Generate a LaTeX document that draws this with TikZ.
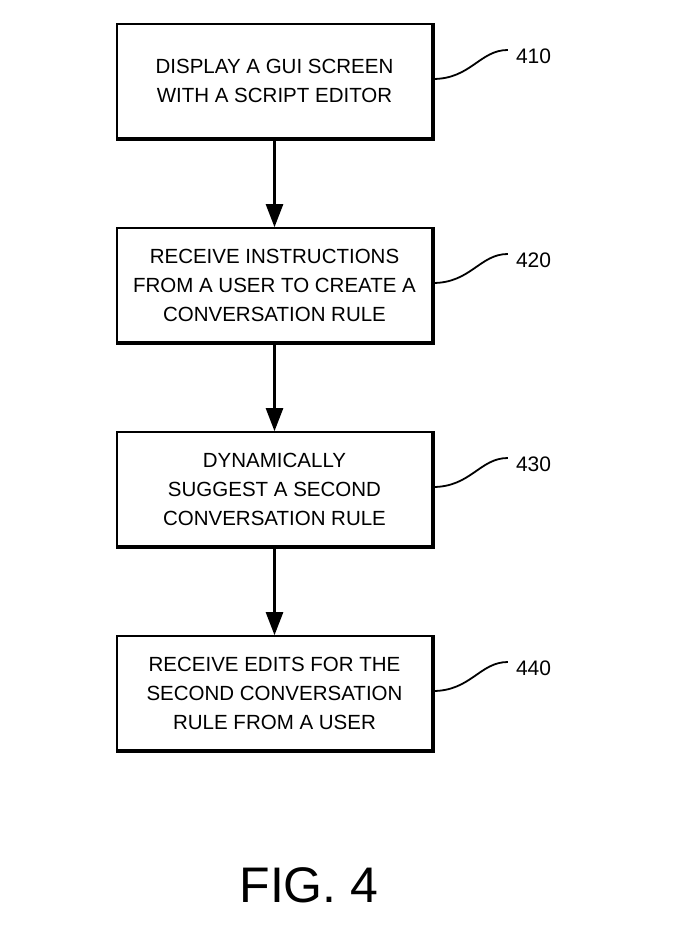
\documentclass[tikz,border=0pt]{standalone}
\usepackage{fontspec}
\setmainfont{Liberation Sans}
\usetikzlibrary{positioning,arrows.meta}

\begin{document}
\begin{tikzpicture}[
  x=1pt, y=1pt,
  node distance=88.4pt,
  stepbox/.style={draw, line width=1.6pt, minimum width=315pt,
    minimum height=114pt, inner sep=0pt, align=center,
    font=\fontsize{20.5}{29}\selectfont},
  flow/.style={line width=2.5pt, -{Triangle[width=17pt,length=23pt]}},
  lead/.style={line width=1.8pt},
]
\useasboundingbox (0,0) rectangle (676,-925);
\node[stepbox] (b1) at (274.5,-81) {DISPLAY A GUI SCREEN\\WITH A SCRIPT EDITOR};
\node[stepbox, below=of b1] (b2) {RECEIVE INSTRUCTIONS\\FROM A USER TO CREATE A\\CONVERSATION RULE};
\node[stepbox, below=of b2] (b3) {DYNAMICALLY\\SUGGEST A SECOND\\CONVERSATION RULE};
\node[stepbox, below=of b3] (b4) {RECEIVE EDITS FOR THE\\SECOND CONVERSATION\\RULE FROM A USER};
% shadow edges
\foreach \b in {b1,b2,b3,b4}
  \draw[line width=4pt] (\b.north east) -- (\b.south east) -- (\b.south west);
\foreach \a/\b in {b1/b2,b2/b3,b3/b4}
  \draw[flow] (\a) -- (\b);
% reference numerals
\foreach \b/\n in {b1/410,b2/420,b3/430,b4/440}{
  \coordinate (e\n) at ([xshift=75pt,yshift=31pt]\b.east);
  \node[anchor=west, inner sep=2pt, font=\fontsize{21}{24}\selectfont]
    (l\n) at ([xshift=6pt,yshift=-6pt]e\n) {\n};
  \draw[lead] ([yshift=2pt]\b.east) .. controls +(38,0) and +(-28,0) .. (e\n);
}
\node[font=\fontsize{50}{60}\selectfont] (fig) at (309,-885) {FIG. 4};
\end{tikzpicture}
\end{document}
